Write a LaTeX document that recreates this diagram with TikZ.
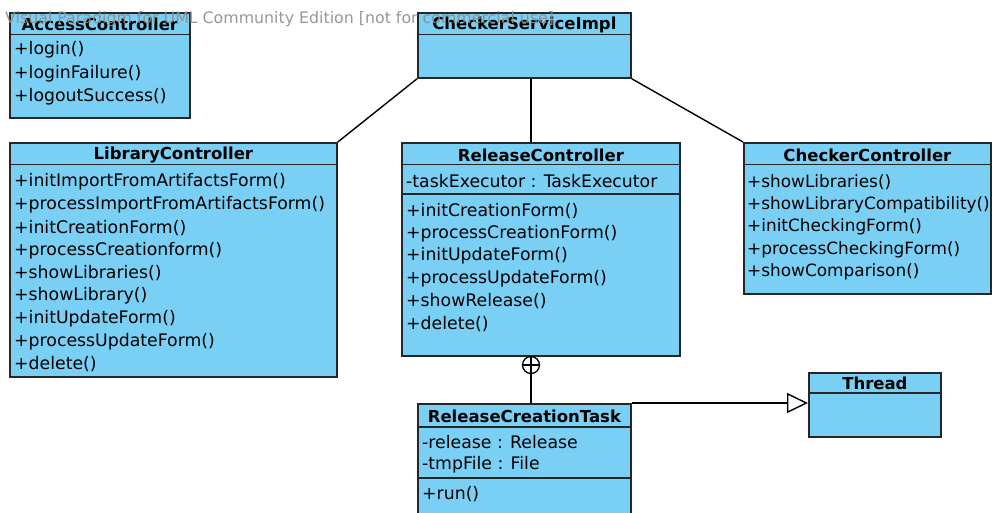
\documentclass[tikz,border=0pt]{standalone}
\usepackage{fontspec}
\setmainfont{DejaVu Sans}
\usetikzlibrary{arrows.meta}
\definecolor{classblue}{RGB}{122,207,245}

\begin{document}
\begin{tikzpicture}[x=1pt,y=-1pt,
        cls/.style={draw=black!85,fill=classblue,line width=1.8pt,anchor=north west,inner sep=0pt},
        ttl/.style={font=\fontsize{16.5}{16}\selectfont\bfseries,inner sep=0pt},
        mem/.style={font=\fontsize{17.3}{16}\selectfont,anchor=west,inner sep=0pt},
        sep/.style={line width=1.8pt,draw=black!85},
        link/.style={line width=1.4pt},
        wmark/.style={font=\fontsize{15.8}{16}\selectfont,text=black!45,opacity=0.9,anchor=west,inner sep=0pt}]
    \clip (0,0) rectangle (992,512);
    % classes
    \node[cls,minimum width=180pt,minimum height=105pt] (access) at (9,12) {};
    \node[cls,minimum width=213pt,minimum height=65pt] (csi) at (417,12) {};
    \node[cls,minimum width=327pt,minimum height=234pt] (lib) at (9,142) {};
    \node[cls,minimum width=278pt,minimum height=213pt] (rel) at (401,142) {};
    \node[cls,minimum width=247pt,minimum height=151pt] (chk) at (743,142) {};
    \node[cls,minimum width=132pt,minimum height=64pt] (thread) at (808,372) {};
    \node[cls,minimum width=213pt,minimum height=130pt] (task) at (417,403) {};
    % compartments
    \foreach \c in {access,csi,lib,rel,chk}
        \draw[sep]([yshift=-22.5pt]\c.north west)--([yshift=-22.5pt]\c.north east);
    \draw[sep]([yshift=-21pt]thread.north west)--([yshift=-21pt]thread.north east);
    \draw[sep]([yshift=-24pt]task.north west)--([yshift=-24pt]task.north east);
    \draw[sep]([yshift=-52pt]rel.north west)--([yshift=-52pt]rel.north east);
    \draw[sep]([yshift=-75pt]task.north west)--([yshift=-75pt]task.north east);
    % titles
    \node[ttl] (access-t) at ([yshift=-12.5pt]access.north) {AccessController};
    \node[ttl] (csi-t) at ([yshift=-12.5pt]csi.north) {CheckerServiceImpl};
    \node[ttl] (lib-t) at ([yshift=-13pt]lib.north) {LibraryController};
    \node[ttl] (rel-t) at ([yshift=-13pt]rel.north) {ReleaseController};
    \node[ttl] (chk-t) at ([yshift=-13pt]chk.north) {CheckerController};
    \node[ttl] (thread-t) at ([yshift=-11.5pt]thread.north) {Thread};
    \node[ttl] (task-t) at ([yshift=-13pt]task.north) {ReleaseCreationTask};
    % members
    \foreach \m [count=\i from 0] in {+login(),+loginFailure(),+logoutSuccess()}
        \node[mem] (access-m\i) at ([xshift=5pt,yshift={-38pt-23.5pt*\i}]access.north west) {\m};
    \foreach \m [count=\i from 0] in {+initImportFromArtifactsForm(),+processImportFromArtifactsForm(),
        +initCreationForm(),+processCreationform(),+showLibraries(),+showLibrary(),
        +initUpdateForm(),+processUpdateForm(),+delete()}
        \node[mem] (lib-m\i) at ([xshift=5pt,yshift={-40pt-22.8pt*\i}]lib.north west) {\m};
    \node[mem] (rel-a0) at ([xshift=5pt,yshift=-39pt]rel.north west) {-taskExecutor : TaskExecutor};
    \foreach \m [count=\i from 0] in {+initCreationForm(),+processCreationForm(),+initUpdateForm(),
        +processUpdateForm(),+showRelease(),+delete()}
        \node[mem] (rel-m\i) at ([xshift=5pt,yshift={-69pt-22.6pt*\i}]rel.north west) {\m};
    \foreach \m [count=\i from 0] in {+showLibraries(),+showLibraryCompatibility(),+initCheckingForm(),
        +processCheckingForm(),+showComparison()}
        \node[mem,font=\fontsize{16.9}{16}\selectfont] (chk-m\i) at ([xshift=4pt,yshift={-40pt-22.5pt*\i}]chk.north west) {\m};
    \node[mem] (task-a0) at ([xshift=5pt,yshift=-39pt]task.north west) {-release : Release};
    \node[mem] (task-a1) at ([xshift=5pt,yshift=-62pt]task.north west) {-tmpFile : File};
    \node[mem] (task-m0) at ([xshift=5pt,yshift=-91pt]task.north west) {+run()};
    % links
    \node[draw,circle,minimum size=17pt,inner sep=0pt,line width=1.3pt] (nest) at (531,365) {};
    \draw[link](nest.north)--(nest.south) (nest.west)--(nest.east);
    \draw[link](csi.south west)--(lib.north east);
    \draw[link](csi.south -| nest)--(rel.north -| nest);
    \draw[link](csi.south east)--(chk.north west);
    \draw[link](rel.south -| nest)--(nest.north);
    \draw[link](nest.south)--(task.north -| nest);
    \draw[link,-{Triangle[open,length=21pt,width=20pt,fill=white]}](task.north east)--(task.north east -| thread.west);
    \node[wmark] (watermark) at (5,19) {Visual Paradigm for UML Community Edition [not for commercial use]};
\end{tikzpicture}
\end{document}
